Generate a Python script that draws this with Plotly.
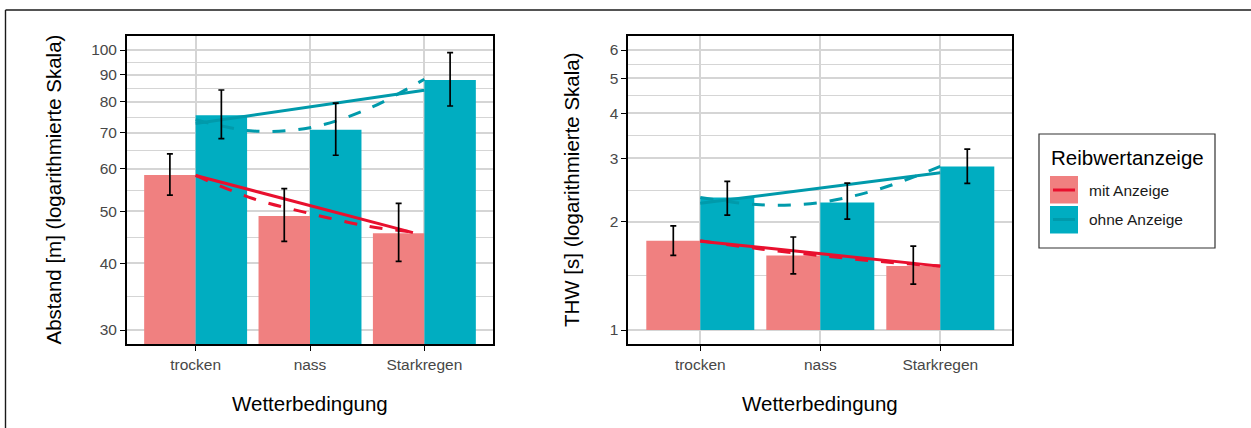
import numpy as np
import plotly.graph_objects as go

# ---------------------------------------------------------------- data
categories = ["trocken", "nass", "Starkregen"]
group_labels = ["mit Anzeige", "ohne Anzeige"]

# Abstand [m]: means with lower/upper error limits
abstand_mit = [58.4, 49.0, 45.5]
abstand_mit_lo = [53.6, 43.9, 40.3]
abstand_mit_hi = [64.0, 55.1, 51.7]
abstand_ohne = [75.5, 71.0, 87.9]
abstand_ohne_lo = [68.3, 63.6, 78.6]
abstand_ohne_hi = [84.2, 79.6, 98.9]

# THW [s]: means with lower/upper error limits
thw_mit = [1.77, 1.61, 1.505]
thw_mit_lo = [1.612, 1.433, 1.342]
thw_mit_hi = [1.948, 1.813, 1.711]
thw_ohne = [2.336, 2.262, 2.848]
thw_ohne_lo = [2.086, 2.033, 2.555]
thw_ohne_hi = [2.587, 2.559, 3.18]

# trend lines along the category axis (1 = trocken ... 3 = Starkregen)
abstand_mit_lin_x = [1, 2.9]
abstand_mit_lin = [58.3, 45.6]
abstand_mit_smooth_x = [1, 1.5, 2, 2.5, 2.9]
abstand_mit_smooth = [58.3, 52.8, 49.5, 46.9, 45.7]
abstand_ohne_lin_x = [1, 3]
abstand_ohne_lin = [72.9, 84.1]
abstand_ohne_smooth_x = [1, 1.5, 2, 2.5, 3]
abstand_ohne_smooth = [74.1, 70.6, 71.6, 77.5, 88.2]

thw_mit_lin_x = [1, 3]
thw_mit_lin = [1.765, 1.505]
thw_mit_smooth_x = [1, 1.5, 2, 2.5, 3]
thw_mit_smooth = [1.77, 1.68, 1.61, 1.55, 1.505]
thw_ohne_lin_x = [1, 3]
thw_ohne_lin = [2.25, 2.735]
thw_ohne_smooth_x = [1, 1.5, 2, 2.5, 3]
thw_ohne_smooth = [2.336, 2.228, 2.262, 2.47, 2.848]

# axis limits and tick marks
abstand_limits = [30, 100]
abstand_ticks = [30, 40, 50, 60, 70, 80, 90, 100]
thw_limits = [1, 6]
thw_ticks = [1, 2, 3, 4, 5, 6]

# ---------------------------------------------------------------- style
W, H = 1251, 428
FONT = "Liberation Sans, Arial, sans-serif"
BAR_MIT = "#F08080"
BAR_OHNE = "#00ADC1"
LINE_MIT = "#E8102E"
LINE_OHNE = "#009AAB"
GRID = "#D5D5D5"
DODGE = 0.45  # width of one dodged bar in category units
BAR_BASE = 1  # bars grow from 1 on the log scale


def px_x(v):
    return v / W


def px_y(v):
    return 1 - v / H


x_pos = np.arange(1, len(categories) + 1)

fig = go.Figure()


def add_panel(xa, ya, mit, mit_lo, mit_hi, ohne, ohne_lo, ohne_hi, lines):
    # bars
    for vals, col, name in [(mit, BAR_MIT, group_labels[0]), (ohne, BAR_OHNE, group_labels[1])]:
        vals = np.asarray(vals)
        fig.add_trace(go.Bar(
            x=x_pos, y=vals - BAR_BASE, base=BAR_BASE, name=name,
            marker=dict(color=col, line=dict(width=0)),
            xaxis=xa, yaxis=ya, showlegend=False, offsetgroup=name,
        ))
    # trend lines
    for xs, ys, col, dash in lines:
        fig.add_trace(go.Scatter(
            x=xs, y=ys, mode="lines",
            line=dict(color=col, width=3, dash=dash, shape="spline", smoothing=1.0),
            xaxis=xa, yaxis=ya, showlegend=False, hoverinfo="skip",
        ))
    # error bars
    for vals, lo, hi, shift in [(mit, mit_lo, mit_hi, -DODGE / 2), (ohne, ohne_lo, ohne_hi, DODGE / 2)]:
        vals = np.asarray(vals)
        fig.add_trace(go.Scatter(
            x=x_pos + shift, y=vals, mode="markers",
            marker=dict(size=1, opacity=0),
            error_y=dict(type="data", symmetric=False,
                         array=np.asarray(hi) - vals, arrayminus=vals - np.asarray(lo),
                         color="black", thickness=1.7, width=3),
            xaxis=xa, yaxis=ya, showlegend=False, hoverinfo="skip",
        ))


add_panel("x", "y", abstand_mit, abstand_mit_lo, abstand_mit_hi,
          abstand_ohne, abstand_ohne_lo, abstand_ohne_hi,
          [(abstand_mit_lin_x, abstand_mit_lin, LINE_MIT, "solid"),
           (abstand_mit_smooth_x, abstand_mit_smooth, LINE_MIT, "13px,13px"),
           (abstand_ohne_lin_x, abstand_ohne_lin, LINE_OHNE, "solid"),
           (abstand_ohne_smooth_x, abstand_ohne_smooth, LINE_OHNE, "13px,13px")])

add_panel("x2", "y2", thw_mit, thw_mit_lo, thw_mit_hi,
          thw_ohne, thw_ohne_lo, thw_ohne_hi,
          [(thw_mit_lin_x, thw_mit_lin, LINE_MIT, "solid"),
           (thw_mit_smooth_x, thw_mit_smooth, LINE_MIT, "13px,13px"),
           (thw_ohne_lin_x, thw_ohne_lin, LINE_OHNE, "solid"),
           (thw_ohne_smooth_x, thw_ohne_smooth, LINE_OHNE, "13px,13px")])


def log_range(limits, expand=0.05):
    lo, hi = np.log10(limits[0]), np.log10(limits[1])
    d = (hi - lo) * expand
    return [lo - d, hi + d]


def minor_breaks(ticks):
    return [float(np.sqrt(a * b)) for a, b in zip(ticks[:-1], ticks[1:])]


tickfont = dict(family=FONT, size=15.5, color="#474747")
common_x = dict(
    range=[0.4, 3.6], tickvals=list(x_pos), ticktext=categories,
    showgrid=True, gridcolor=GRID, gridwidth=1.6, zeroline=False,
    ticks="outside", ticklen=5, tickwidth=1.4, tickcolor="black",
    showline=True, mirror=True, linecolor="black", linewidth=1.8,
    tickfont=tickfont, fixedrange=True,
)
common_y = dict(
    type="log", showgrid=True, gridcolor=GRID, gridwidth=1.6, zeroline=False,
    ticks="outside", ticklen=5, tickwidth=1.4, tickcolor="black",
    showline=True, mirror=True, linecolor="black", linewidth=1.8,
    tickfont=tickfont, fixedrange=True,
)

y_dom = [px_y(344), px_y(36)]
fig.update_layout(
    xaxis=dict(common_x, domain=[px_x(127), px_x(493)], anchor="y"),
    yaxis=dict(common_y, domain=y_dom, anchor="x",
               range=log_range(abstand_limits),
               tickvals=abstand_ticks, ticktext=[str(t) for t in abstand_ticks],
               minor=dict(tickvals=minor_breaks(abstand_ticks), showgrid=True,
                          gridcolor=GRID, gridwidth=1.3, ticks="")),
    xaxis2=dict(common_x, domain=[px_x(628.3), px_x(1012.3)], anchor="y2"),
    yaxis2=dict(common_y, domain=y_dom, anchor="x2",
                range=log_range(thw_limits),
                tickvals=thw_ticks, ticktext=[str(t) for t in thw_ticks],
                minor=dict(tickvals=minor_breaks(thw_ticks), showgrid=True,
                           gridcolor=GRID, gridwidth=1.3, ticks="")),
    barmode="group", bargap=0.1, bargroupgap=0,
    width=W, height=H, margin=dict(l=0, r=0, t=0, b=0),
    paper_bgcolor="white", plot_bgcolor="white",
    showlegend=False, font=dict(family=FONT),
)

# axis titles
title_font = dict(family=FONT, size=20.5, color="black")
annotations = [
    dict(text="Wetterbedingung", x=px_x(310), y=px_y(403), xref="paper", yref="paper",
         xanchor="center", yanchor="middle", showarrow=False, font=title_font),
    dict(text="Wetterbedingung", x=px_x(820), y=px_y(403), xref="paper", yref="paper",
         xanchor="center", yanchor="middle", showarrow=False, font=title_font),
    dict(text="Abstand [m] (logarithmierte Skala)", x=px_x(52.5), y=px_y(190),
         xref="paper", yref="paper", xanchor="center", yanchor="middle",
         textangle=-90, showarrow=False, font=title_font),
    dict(text="THW [s] (logarithmierte Skala)", x=px_x(571), y=px_y(190),
         xref="paper", yref="paper", xanchor="center", yanchor="middle",
         textangle=-90, showarrow=False, font=title_font),
    # legend texts
    dict(text="Reibwertanzeige", x=px_x(1049), y=px_y(157), xref="paper", yref="paper",
         xanchor="left", yanchor="middle", showarrow=False, font=title_font),
    dict(text=group_labels[0], x=px_x(1087), y=px_y(190), xref="paper", yref="paper",
         xanchor="left", yanchor="middle", showarrow=False,
         font=dict(family=FONT, size=15.5, color="#1A1A1A")),
    dict(text=group_labels[1], x=px_x(1087), y=px_y(220), xref="paper", yref="paper",
         xanchor="left", yanchor="middle", showarrow=False,
         font=dict(family=FONT, size=15.5, color="#1A1A1A")),
]
fig.update_layout(annotations=annotations)

# legend box, keys and outer frame
shapes = [
    dict(type="rect", xref="paper", yref="paper",
         x0=px_x(1039), x1=px_x(1215), y0=px_y(248), y1=px_y(134),
         line=dict(color="#333333", width=1.2), fillcolor="white", layer="below"),
    dict(type="rect", xref="paper", yref="paper",
         x0=px_x(1050), x1=px_x(1078), y0=px_y(203.5), y1=px_y(176),
         line=dict(width=0), fillcolor=BAR_MIT),
    dict(type="rect", xref="paper", yref="paper",
         x0=px_x(1050), x1=px_x(1078), y0=px_y(233.5), y1=px_y(206),
         line=dict(width=0), fillcolor=BAR_OHNE),
    dict(type="line", xref="paper", yref="paper",
         x0=px_x(1053), x1=px_x(1075), y0=px_y(190), y1=px_y(190),
         line=dict(color=LINE_MIT, width=3)),
    dict(type="line", xref="paper", yref="paper",
         x0=px_x(1053), x1=px_x(1075), y0=px_y(219.5), y1=px_y(219.5),
         line=dict(color=LINE_OHNE, width=3)),
    dict(type="line", xref="paper", yref="paper",
         x0=px_x(5.5), x1=px_x(1260), y0=px_y(10), y1=px_y(10),
         line=dict(color="#1A1A1A", width=1.4)),
    dict(type="line", xref="paper", yref="paper",
         x0=px_x(5.5), x1=px_x(5.5), y0=px_y(10), y1=px_y(440),
         line=dict(color="#1A1A1A", width=1.4)),
]
fig.update_layout(shapes=shapes)

fig.write_html("out.html")
